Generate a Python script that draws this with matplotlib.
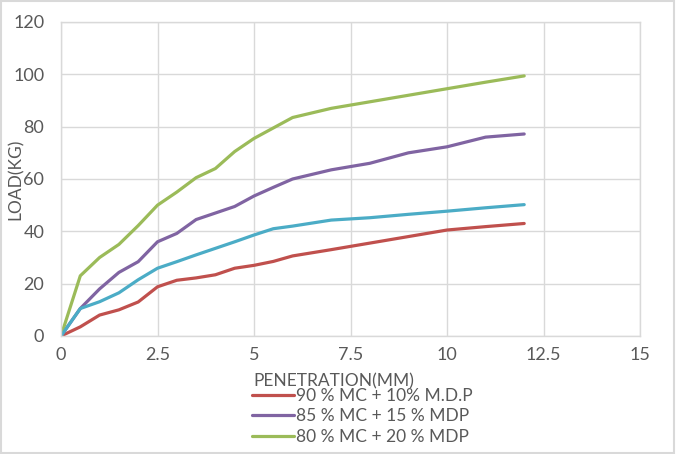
import numpy as np
import matplotlib.pyplot as plt
from matplotlib.patches import Rectangle

# data (penetration in mm, load in kg)
penetration = [0, 0.5, 1, 1.5, 2, 2.5, 3, 3.5, 4, 4.5, 5, 5.5, 6, 7, 8, 9, 10, 11, 12]
load_90 = [0, 3.5, 8, 10, 13, 18.8, 21.3, 22.2, 23.4, 25.9, 27, 28.5, 30.6, 33, 35.5, 38, 40.5, 41.8, 43]
load_85 = [0, 10.5, 18, 24.3, 28.4, 36, 39.2, 44.5, 47, 49.5, 53.5, 56.8, 60, 63.5, 66, 70, 72.3, 76, 77.2]
load_80 = [0, 23, 30, 35, 42.2, 50, 55, 60.5, 64, 70.5, 75.5, 79.5, 83.5, 87, 89.5, 92, 94.5, 97, 99.4]
load_cyan = [0, 10.5, 13.1, 16.5, 21.5, 25.9, 28.4, 31, 33.5, 36, 38.6, 41, 42, 44.3, 45.2, 46.5, 47.7, 49, 50.2]

labels = ['90 % MC + 10% M.D.P', '85 % MC + 15 % MDP', '80 % MC + 20 % MDP']
colors = ['#C0504D', '#8064A2', '#9BBB59', '#4BACC6']

plt.rcParams['font.family'] = ['Lato', 'DejaVu Sans']
txt_color = '#595959'
grid_color = '#D9D9D9'

fig = plt.figure(figsize=(6.76, 4.54), dpi=100)
ax = fig.add_axes([61 / 676, 1 - 336 / 454, 579 / 676, 314 / 454])

l1, = ax.plot(penetration, load_90, color=colors[0], lw=2.3, solid_capstyle='round')
l2, = ax.plot(penetration, load_85, color=colors[1], lw=2.3, solid_capstyle='round')
l3, = ax.plot(penetration, load_80, color=colors[2], lw=2.3, solid_capstyle='round')
l4, = ax.plot(penetration, load_cyan, color=colors[3], lw=2.3, solid_capstyle='round')

ax.set_xlim(0, 15)
ax.set_ylim(0, 120)
ax.set_xticks([0, 2.5, 5, 7.5, 10, 12.5, 15])
ax.set_xticklabels(['0', '2.5', '5', '7.5', '10', '12.5', '15'])
ax.set_yticks(range(0, 121, 20))
ax.grid(True, color=grid_color, lw=1)
ax.set_axisbelow(True)
for s in ax.spines.values():
    s.set_color(grid_color)
    s.set_linewidth(1)
ax.tick_params(length=0, labelsize=13, colors=txt_color)
ax.tick_params(axis='y', pad=12)
ax.tick_params(axis='x', pad=8)

ax.set_ylabel('LOAD(KG)', fontsize=12.5, color=txt_color)
ax.yaxis.set_label_coords((24 - 61) / 579, 0.5)
ax.set_xlabel('PENETRATION(MM)', fontsize=12.5, color=txt_color)
ax.xaxis.set_label_coords((334 - 61) / 579, (336 - 373) / 314)

fig.legend([l1, l2, l3], labels, loc='upper left',
           bbox_to_anchor=(252 / 676, 1 - 388 / 454), frameon=False,
           fontsize=12.5, handlelength=2.4, handletextpad=0.15,
           labelspacing=0.25, borderpad=0, borderaxespad=0,
           labelcolor=txt_color)

# chart border
fig.patches.append(Rectangle((0.002, 0.003), 0.995, 0.994, transform=fig.transFigure,
                             fill=False, edgecolor=grid_color, lw=1.5))

fig.savefig('out.png', dpi=100)
